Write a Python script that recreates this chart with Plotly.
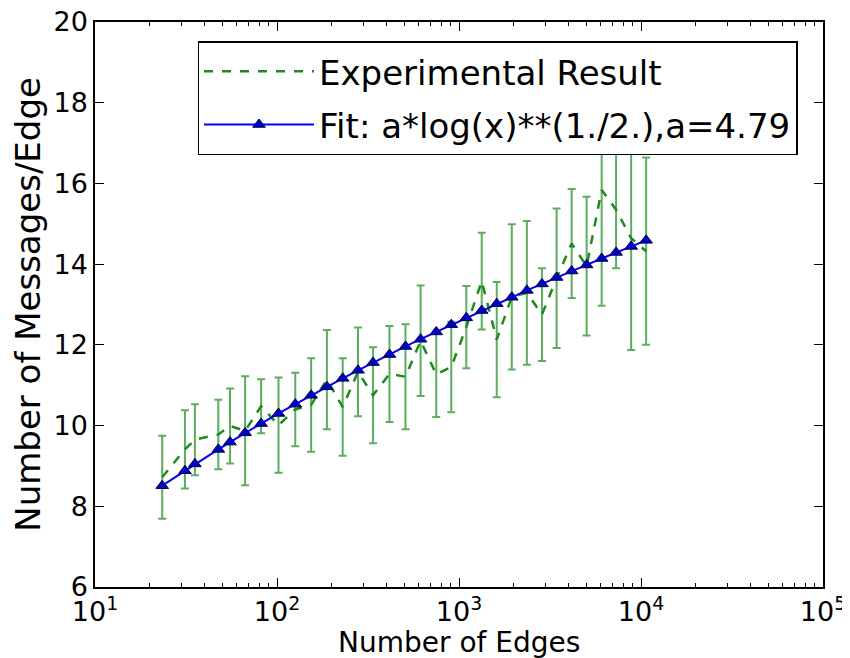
import plotly.graph_objects as go

# Number of edges (x)
edges = [23.4, 31.2, 35.4, 47.6, 55.2, 66.8, 81.8, 101.9, 126, 154, 188, 229.6,
         278.7, 337, 415, 508, 615, 750, 907, 1097, 1333, 1612, 1950, 2360,
         2856, 3438, 4159, 5026, 6081, 7295, 8830, 10670]
# Experimental mean messages/edge
experimental = [8.72, 9.41, 9.65, 9.78, 9.99, 9.87, 10.48, 10.01, 10.40, 10.51, 11.14, 10.46,
                11.33, 10.75, 11.28, 11.21, 12.10, 11.27, 11.45, 12.44, 13.58, 12.13,
                13.19, 13.29, 12.75, 13.65, 14.51, 13.95, 15.84, 15.35, 14.64, 14.32]
# Error bar half-widths
errors = [1.03, 0.97, 0.88, 0.86, 0.93, 1.35, 0.67, 1.18, 0.91, 1.16, 1.23, 1.21,
          1.10, 1.19, 1.19, 1.30, 1.37, 1.06, 1.12, 1.02, 1.20, 1.43,
          1.80, 1.78, 1.15, 1.73, 1.35, 1.72, 2.87, 1.45, 2.77, 2.32]
# Fitted values a*sqrt(log(x)), a=4.79, read at the same x
fit = [8.51, 8.88, 9.05, 9.41, 9.59, 9.82, 10.05, 10.30, 10.53, 10.75, 10.96, 11.17,
       11.37, 11.56, 11.76, 11.96, 12.14, 12.32, 12.50, 12.67, 12.85, 13.02,
       13.18, 13.35, 13.51, 13.67, 13.83, 13.98, 14.14, 14.29, 14.44, 14.59]

x_tickvals = [10, 100, 1000, 10000, 100000]
x_ticktext = ["10<sup>1</sup>", "10<sup>2</sup>", "10<sup>3</sup>", "10<sup>4</sup>", "10<sup>5</sup>"]
x_minor = [m * d for d in [10, 100, 1000, 10000] for m in range(2, 10)]
y_tickvals = [6, 8, 10, 12, 14, 16, 18, 20]

FONT = "DejaVu Sans"

fig = go.Figure()
fig.add_trace(go.Scatter(
    x=edges, y=experimental, mode="lines", name="Experimental Result",
    legendgroup="exp",
    line=dict(color="#1e8a1e", width=2.5, dash="dash"),
    error_y=dict(type="data", array=errors, visible=True,
                 color="rgba(40,145,40,0.75)", thickness=2, width=4),
))
fig.add_trace(go.Scatter(
    x=edges, y=fit, mode="lines+markers", name="Fit: a*log(x)**(1./2.),a=4.79",
    legendgroup="fit",
    line=dict(color="#0000ff", width=2),
    marker=dict(symbol="triangle-up", size=11, color="#0000c8",
                line=dict(color="#000050", width=1)),
))

# page body has an 8px margin, so the figure is 8px smaller than the window
fig.update_layout(
    width=842, height=650,
    margin=dict(l=87, r=27, t=14, b=71, autoexpand=False),
    paper_bgcolor="white", plot_bgcolor="white",
    font=dict(family=FONT, size=27, color="black"),
    legend=dict(x=0.965, xanchor="right", y=0.966, yanchor="top",
                bgcolor="white", bordercolor="black", borderwidth=1.5,
                font=dict(size=34, family=FONT), itemwidth=110,
                traceorder="grouped", tracegroupgap=6),
    showlegend=True,
    annotations=[
        dict(text="Number of Edges", xref="paper", yref="paper",
             x=0.5, y=-0.098, xanchor="center", yanchor="middle",
             showarrow=False, font=dict(size=28, family=FONT)),
        dict(text="Number of Messages/Edge", xref="paper", yref="paper",
             x=-0.093, y=0.5, xanchor="center", yanchor="middle", textangle=-90,
             showarrow=False, font=dict(size=34, family=FONT)),
    ],
)
fig.update_xaxes(
    type="log", range=[1, 5], automargin=False, ticklabeloverflow="allow",
    ticklabelstandoff=0,
    tickmode="array", tickvals=x_tickvals, ticktext=x_ticktext,
    ticks="inside", ticklen=9, tickwidth=1.2, tickcolor="black",
    minor=dict(tickmode="array", tickvals=x_minor, ticks="inside", ticklen=4,
               tickcolor="black", showgrid=False),
    showline=True, linecolor="black", linewidth=1.5, mirror="allticks",
    showgrid=False, zeroline=False,
    tickfont=dict(size=27),
)
fig.update_yaxes(
    range=[6, 20], tickmode="array", tickvals=y_tickvals, automargin=False,
    ticklabeloverflow="allow",
    ticks="inside", ticklen=9, tickwidth=1.2, tickcolor="black",
    showline=True, linecolor="black", linewidth=1.5, mirror="allticks",
    showgrid=False, zeroline=False,
    tickfont=dict(size=27),
)

fig.write_html("out.html")
